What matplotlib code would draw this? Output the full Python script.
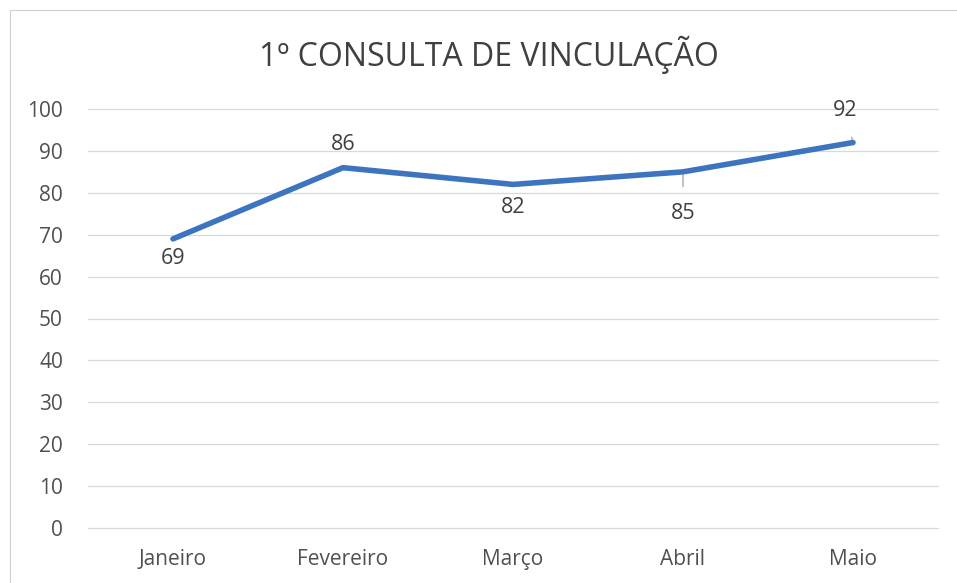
import matplotlib.pyplot as plt
from matplotlib.patches import Rectangle

meses = ['Janeiro', 'Fevereiro', 'Março', 'Abril', 'Maio']
valores = [69, 86, 82, 85, 92]
yticks = [0, 10, 20, 30, 40, 50, 60, 70, 80, 90, 100]

plt.rcParams['font.family'] = ['Open Sans', 'DejaVu Sans']

fig = plt.figure(figsize=(9.57, 5.83), dpi=100)
ax = fig.add_axes([88/957, 1 - 528/583, 850/957, 419/583])

# moldura do gráfico
fig.patches.append(Rectangle((10/957, -0.01), 1.0, 1 - 10/583 + 0.01,
                             transform=fig.transFigure, fill=False,
                             edgecolor='#d0d0d0', linewidth=0.8))

x = list(range(len(meses)))
ax.plot(x, valores, color='#3d74c0', linewidth=4.0, solid_capstyle='round',
        solid_joinstyle='round', zorder=3)

# rótulos de dados: (dx px, dy px, linha de chamada)
offsets = [(0, -20, False), (0, 23, False), (0, -23, False), (0, -42, True), (-8, 32, True)]
for xi, v, (dx, dy, leader) in zip(x, valores, offsets):
    ax.annotate(str(v), (xi, v), xytext=(dx * 0.72, dy * 0.72), textcoords='offset points',
                ha='center', va='center', fontsize=15.5, color='#404040',
                arrowprops=dict(arrowstyle='-', color='#909090', lw=0.8,
                                shrinkA=10, shrinkB=2) if leader else None)

ax.set_xlim(-0.5, 4.5)
ax.set_ylim(0, 100)
ax.set_xticks(x)
ax.set_xticklabels(meses)
ax.set_yticks(yticks)
ax.tick_params(axis='both', length=0, labelsize=15, labelcolor='#505050')
ax.tick_params(axis='x', pad=15)
ax.tick_params(axis='y', pad=18)
ax.grid(axis='y', color='#d6d9e0', linewidth=0.9)
for gl in ax.get_ygridlines():
    gl.set_clip_on(False)
ax.set_axisbelow(True)
for s in ax.spines.values():
    s.set_visible(False)

fig.text(489/957, 1 - 55/583, '1º CONSULTA DE VINCULAÇÃO', ha='center', va='center',
         fontsize=23, color='#404040')

fig.savefig('out.png', dpi=100)
